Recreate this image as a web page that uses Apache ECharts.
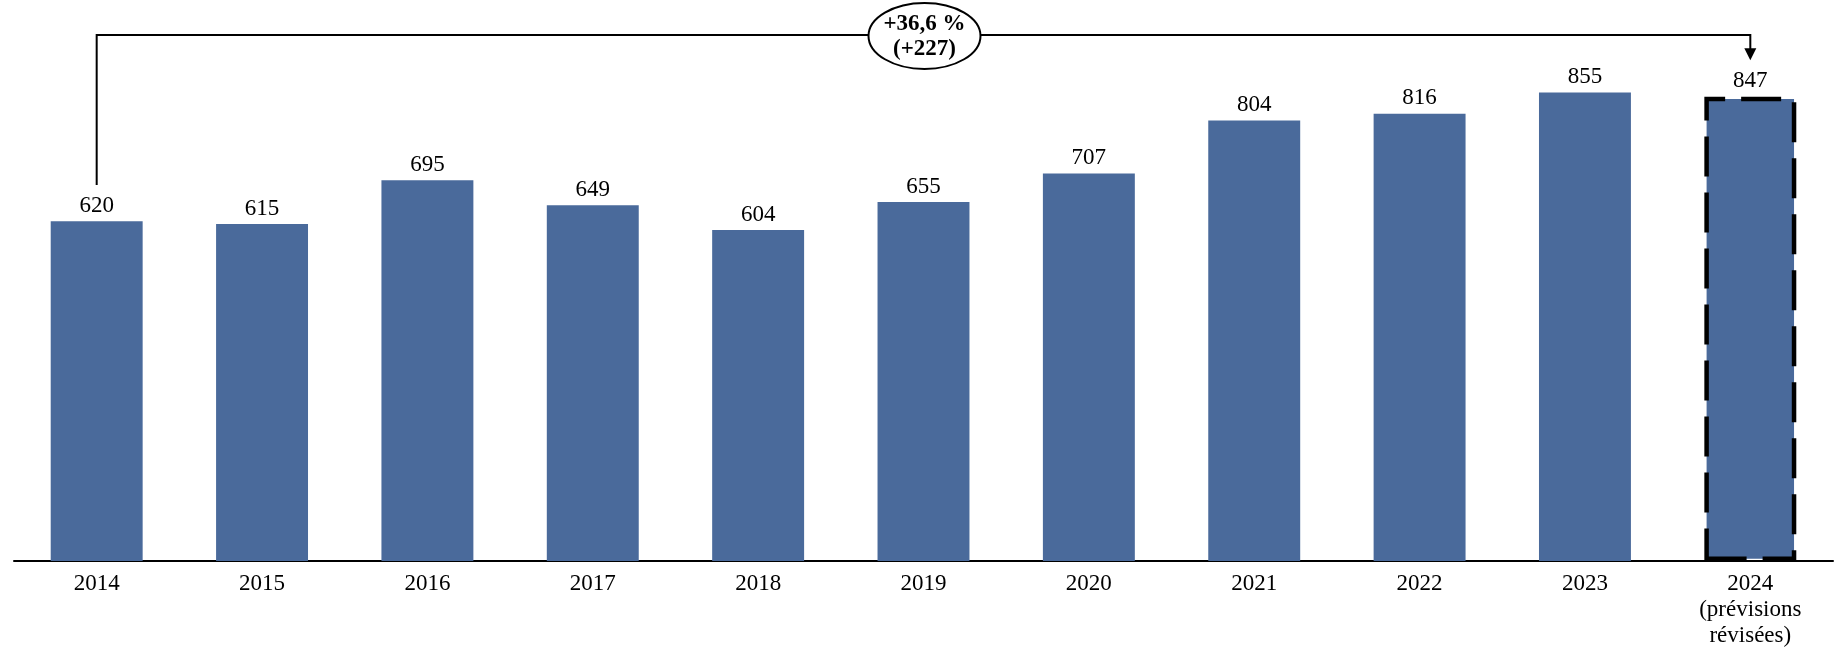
<!DOCTYPE html>
<html>
<head>
<meta charset="utf-8">
<script src="https://cdn.jsdelivr.net/npm/echarts@6/dist/echarts.min.js"></script>
<style>
html,body{margin:0;padding:0;background:#fff;}
#chart{width:1847px;height:657px;}
</style>
</head>
<body>
<div id="chart"></div>
<script>
var categories = ['2014','2015','2016','2017','2018','2019','2020','2021','2022','2023','2024\n(prévisions\nrévisées)'];
var values = [620, 615, 695, 649, 604, 655, 707, 804, 816, 855, 847];

var FONT = '"Liberation Serif", "Times New Roman", serif';
var BAR_COLOR = '#4A6A9B';

var first = values[0], last = values[values.length - 1];
var diff = last - first;
var pct = (diff / first * 100).toFixed(1).replace('.', ',');
var annoText1 = '+' + pct + ' %';
var annoText2 = '(+' + diff + ')';

var barData = values.map(function (v, i) {
  if (i === values.length - 1) {
    return {
      value: v,
      itemStyle: {
        color: BAR_COLOR,
        borderColor: '#000',
        borderWidth: 4.5,
        borderType: [40, 16]
      }
    };
  }
  return v;
});

var chart = echarts.init(document.getElementById('chart'));
chart.setOption({
  animation: false,
  backgroundColor: '#fff',
  grid: { left: 14, right: 14, top: 13, bottom: 96, containLabel: false },
  xAxis: {
    type: 'category',
    data: categories,
    axisLine: { show: true, lineStyle: { color: '#000', width: 2 } },
    axisTick: { show: false },
    axisLabel: {
      color: '#000', fontFamily: FONT, fontSize: 23, margin: 10,
      lineHeight: 26, interval: 0
    }
  },
  yAxis: {
    type: 'value', min: 0, max: 1000, show: false,
    splitLine: { show: false }
  },
  series: [
    {
      type: 'bar',
      data: barData,
      barWidth: '55.6%',
      itemStyle: { color: BAR_COLOR },
      label: {
        show: true, position: 'top', distance: 4,
        color: '#000', fontFamily: FONT, fontSize: 23
      }
    },
    {
      type: 'custom',
      data: [[0, values.length - 1]],
      z: 10,
      renderItem: function (params, api) {
        var i0 = api.value(0), i1 = api.value(1);
        var pStart = api.coord([i0, 686]);
        var pTopL = api.coord([i0, 960]);
        var pTopR = api.coord([i1, 960]);
        var pTip = api.coord([i1, 914]);
        var mid = api.coord([5, 960]);
        var y = pTopL[1];
        var tipY = pTip[1];
        var xR = pTopR[0];
        return {
          type: 'group',
          children: [
            {
              type: 'polyline',
              shape: { points: [pStart, [pStart[0], y], [xR, y], [xR, tipY - 10]] },
              style: { stroke: '#000', lineWidth: 2, fill: null }
            },
            {
              type: 'polygon',
              shape: { points: [[xR - 6, tipY - 12], [xR + 6, tipY - 12], [xR, tipY]] },
              style: { fill: '#000' }
            },
            {
              type: 'ellipse',
              shape: { cx: mid[0] + 1, cy: y + 1, rx: 56, ry: 33 },
              style: { fill: '#fff', stroke: '#000', lineWidth: 2 }
            },
            {
              type: 'text',
              style: {
                x: mid[0] + 1, y: y - 11,
                text: annoText1,
                fill: '#000', font: 'bold 23px ' + FONT,
                align: 'center', verticalAlign: 'middle'
              }
            },
            {
              type: 'text',
              style: {
                x: mid[0] + 1, y: y + 14,
                text: annoText2,
                fill: '#000', font: 'bold 23px ' + FONT,
                align: 'center', verticalAlign: 'middle'
              }
            }
          ]
        };
      }
    }
  ]
});
</script>
</body>
</html>
